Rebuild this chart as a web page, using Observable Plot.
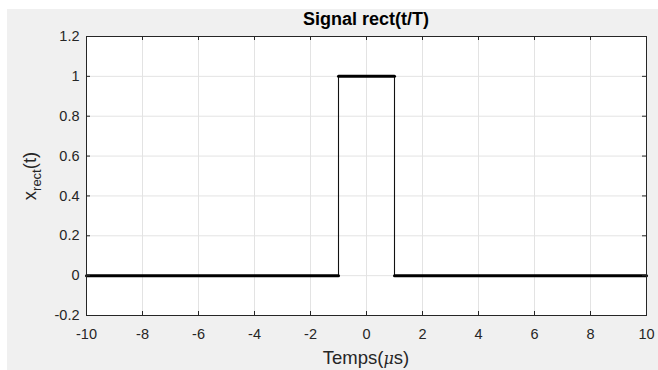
<!DOCTYPE html>
<html><head><meta charset="utf-8">
<script src="https://cdn.jsdelivr.net/npm/d3@7"></script>
<script src="https://cdn.jsdelivr.net/npm/@observablehq/plot@0.6"></script>
<style>
body{margin:0;background:#fff;}
#wrap{position:relative;width:658px;height:370px;overflow:hidden;font-family:"Liberation Sans",Arial,sans-serif;color:#262626;}
#bg{position:absolute;left:7px;top:9px;right:0;bottom:0;background:#f0f0f0;}
#chart{position:absolute;left:0;top:0;}
.lbl{position:absolute;white-space:nowrap;line-height:1;}
#title{left:366px;top:19px;transform:translate(-50%,-50%);font-weight:bold;font-size:18px;color:#000;}
#xlabel{left:366px;top:358px;transform:translate(-50%,-50%);font-size:18.5px;}
#ylabel{left:30px;top:176px;transform:translate(-50%,-50%) rotate(-90deg);font-size:18.5px;}
#ylabel sub{font-size:13px;vertical-align:-5px;line-height:0;}
</style></head>
<body>
<div id="wrap">
  <div id="bg"></div>
  <div id="chart"></div>
  <div class="lbl" id="title">Signal rect(t/T)</div>
  <div class="lbl" id="xlabel">Temps(<i style="font-family:'DejaVu Serif',serif;font-size:16px">μ</i>s)</div>
  <div class="lbl" id="ylabel">x<sub>rect</sub>(t)</div>
</div>
<script>
// signal points (t in µs, x_rect value)
const tVals = [-10, -1, -1, 1, 1, 10];
const xVals = [0, 0, 1, 1, 0, 0];
const xTicks = [-10, -8, -6, -4, -2, 0, 2, 4, 6, 8, 10];
const yTicks = [-0.2, 0, 0.2, 0.4, 0.6, 0.8, 1, 1.2];
const xDomain = [-10, 10];
const yDomain = [-0.2, 1.2];

const segs = [];
for (let i = 0; i < tVals.length - 1; i++) {
  segs.push({x1: tVals[i], y1: xVals[i], x2: tVals[i + 1], y2: xVals[i + 1], horiz: xVals[i] === xVals[i + 1]});
}
const W = 658, H = 370, mL = 86, mR = 12, mT = 36, mB = 55;
const ph = H - mT - mB, pw = W - mL - mR;
const axisColor = "#262626";
const fmt = d => String(+(+d).toFixed(1));

const chart = Plot.plot({
  width: W, height: H,
  marginLeft: mL, marginRight: mR, marginTop: mT, marginBottom: mB,
  style: {background: "transparent", fontFamily: "'Liberation Sans', Arial, sans-serif", fontSize: "14.5px", color: axisColor},
  x: {domain: xDomain, label: null},
  y: {domain: yDomain, label: null},
  marks: [
    Plot.frame({fill: "white", stroke: null}),
    Plot.gridX(xTicks, {stroke: "#e3e3e3", strokeOpacity: 1}),
    Plot.gridY(yTicks, {stroke: "#e3e3e3", strokeOpacity: 1}),
    Plot.link(segs.filter(s => !s.horiz), {x1: "x1", y1: "y1", x2: "x2", y2: "y2", stroke: "#111", strokeWidth: 1.1}),
    Plot.link(segs.filter(s => s.horiz), {x1: "x1", y1: "y1", x2: "x2", y2: "y2", stroke: "#000", strokeWidth: 3, strokeLinecap: "round"}),
    Plot.frame({stroke: axisColor, strokeWidth: 1}),
    // inward ticks
    Plot.ruleX(xTicks, {insetTop: ph - 4, stroke: axisColor}),
    Plot.ruleX(xTicks, {insetBottom: ph - 4, stroke: axisColor}),
    Plot.ruleY(yTicks, {insetRight: pw - 4, stroke: axisColor}),
    Plot.ruleY(yTicks, {insetLeft: pw - 4, stroke: axisColor}),
    Plot.axisX(xTicks, {tickSize: 0, tickPadding: 13, tickFormat: fmt, fill: axisColor}),
    Plot.axisY(yTicks, {tickSize: 0, tickPadding: 7, tickFormat: fmt, fill: axisColor})
  ]
});
document.getElementById("chart").appendChild(chart);
</script>
</body></html>
